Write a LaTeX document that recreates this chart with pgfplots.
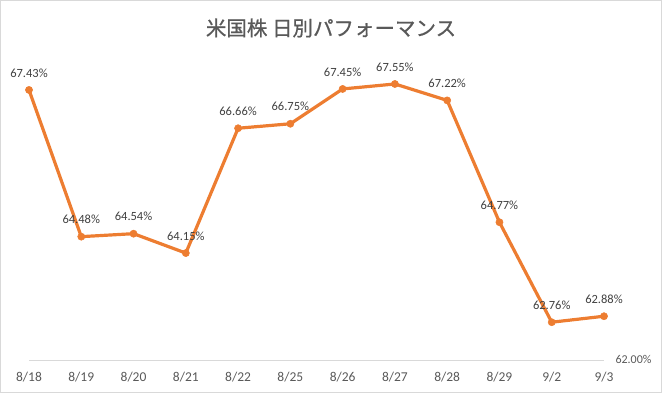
\documentclass[border=0pt]{standalone}
\usepackage{pgfplots}
\pgfplotsset{compat=1.18}
\usepackage{fontspec}
\setmainfont{Carlito}
\newfontfamily\cjk[FakeBold=0.8]{Noto Sans CJK JP}
\definecolor{lineor}{RGB}{237,125,49}
\definecolor{txtgray}{RGB}{89,89,89}
\definecolor{lblgray}{RGB}{64,64,64}
\definecolor{axgray}{RGB}{217,217,217}
\begin{document}
\begin{tikzpicture}
\begin{axis}[
  at={(29pt,33pt)}, anchor=south west,
  scale only axis, width=575pt, height=298.4pt,
  xmin=0, xmax=11, ymin=62, ymax=68,
  clip=false,
  axis x line*=bottom, axis y line*=right,
  x axis line style={draw=axgray, line width=0.75pt, -},
  y axis line style={draw=none},
  tick style={draw=none},
  xtick={0,...,11},
  xticklabels={8/18,8/19,8/20,8/21,8/22,8/25,8/26,8/27,8/28,8/29,9/2,9/3},
  xticklabel style={anchor=center, yshift=-17pt, font=\fontsize{13.5}{15}\selectfont, text=txtgray},
  ytick={62},
  yticklabel={\pgfmathprintnumber[fixed,fixed zerofill,precision=2]{\tick}\%},
  yticklabel style={anchor=west, xshift=8pt, yshift=1pt, font=\fontsize{12}{14}\selectfont, text=txtgray},
  /pgf/number format/assume math mode=true,
  nodes near coords={\pgfmathprintnumber[fixed,fixed zerofill,precision=2,assume math mode=true]{\pgfplotspointmeta}\%},
  every node near coord/.append style={anchor=center, yshift=17pt, font=\fontsize{12.5}{14}\selectfont, text=lblgray},
]
\addplot[color=lineor, line width=3.2pt, mark=*, mark size=3.6pt, mark options={fill=lineor, draw=lineor, line width=0.5pt}]
coordinates {
(0,67.43) (1,64.48) (2,64.54) (3,64.15) (4,66.66) (5,66.75)
(6,67.45) (7,67.55) (8,67.22) (9,64.77) (10,62.76) (11,62.88)
};
\end{axis}
\node[text=txtgray, font=\cjk\fontsize{20.5}{24}\selectfont] at (331pt,365pt) {米国株 日別パフォーマンス};
\draw[axgray, line width=1pt] (0.5pt,0.5pt) rectangle (661.5pt,392.5pt);
\end{tikzpicture}
\end{document}
